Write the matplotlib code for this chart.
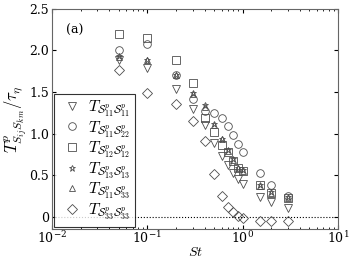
#Scatter of particle time scales T^p against Stokes number, panel (a)
import matplotlib
matplotlib.use('Agg')
import matplotlib.pyplot as plt
import numpy as np

plt.rcParams['mathtext.fontset'] = 'cm'
plt.rcParams['font.family'] = 'serif'
plt.rcParams['font.serif'] = ['DejaVu Serif']

#DATA
st = [0.05, 0.1, 0.2, 0.3, 0.4, 0.5, 0.6, 0.7, 0.8, 0.9, 1.0, 1.5, 2.0, 3.0]
t11_11 = [1.89, 1.79, 1.54, 1.29, 1.10, 0.89, 0.73, 0.62, 0.53, 0.45, 0.39, 0.24, 0.18, 0.10]
t11_22 = [2.01, 2.08, 1.71, 1.41, 1.27, 1.25, 1.19, 1.09, 0.98, 0.88, 0.78, 0.53, 0.38, 0.25]
t12_12 = [2.20, 2.15, 1.88, 1.61, 1.19, 1.02, 0.86, 0.78, 0.67, 0.59, 0.55, 0.38, 0.29, 0.22]
t13_13 = [1.93, 1.89, 1.71, 1.49, 1.34, 1.12, 0.94, 0.80, 0.69, 0.59, 0.56, 0.38, 0.30, 0.24]
t11_33 = [1.92, 1.88, 1.71, 1.48, 1.32, 1.10, 0.93, 0.79, 0.68, 0.58, 0.55, 0.37, 0.29, 0.23]
t33_33 = [1.76, 1.49, 1.35, 1.15, 0.91, 0.51, 0.25, 0.12, 0.05, 0.01, -0.02, -0.05, -0.05, -0.05]

series = [t11_11, t11_22, t12_12, t13_13, t11_33, t33_33]
markers = ['v', 'o', 's', '*', '^', 'D']
labels = [r'$T_{\mathcal{S}^p_{11}\mathcal{S}^p_{11}}$',
          r'$T_{\mathcal{S}^p_{11}\mathcal{S}^p_{22}}$',
          r'$T_{\mathcal{S}^p_{12}\mathcal{S}^p_{12}}$',
          r'$T_{\mathcal{S}^p_{13}\mathcal{S}^p_{13}}$',
          r'$T_{\mathcal{S}^p_{11}\mathcal{S}^p_{33}}$',
          r'$T_{\mathcal{S}^p_{33}\mathcal{S}^p_{33}}$']
sizes = [5.5, 5.5, 5.5, 5.0, 5.0, 5.5]

#PLOT
fig = plt.figure(figsize=(3.53, 2.63), dpi=100)
ax = fig.add_axes([0.147, 0.129, 0.811, 0.837])
ax.axhline(0, color='k', ls=':', lw=0.8, zorder=0)
for y, m, lab, ms in zip(series, markers, labels, sizes):
    ax.plot(st, y, ls='none', marker=m, ms=ms, mfc='none', mec='0.3',
            mew=0.6, label=lab)

ax.set_xscale('log')
ax.set_xlim(1e-2, 1e1)
ax.set_ylim(-0.15, 2.5)
ax.set_yticks([0, 0.5, 1.0, 1.5, 2.0, 2.5])
ax.set_yticklabels(['0', '0.5', '1.0', '1.5', '2.0', '2.5'])
ax.tick_params(which='both', direction='in', top=True, right=True, labelsize=9, pad=2)
ax.tick_params(axis='x', which='both', pad=1)
ax.tick_params(which='major', length=3)
ax.tick_params(which='minor', length=1.5)
for s in ax.spines.values():
    s.set_color('0.4')

ax.set_xlabel(r'$St$', fontsize=10, labelpad=-1)
ax.set_ylabel(r'$T^p_{S_{ij}S_{km}}/\tau_\eta$', fontsize=12, labelpad=0)
ax.text(0.05, 0.93, '(a)', transform=ax.transAxes, fontsize=9, va='top')

leg = ax.legend(loc='lower left', fontsize=11.5, frameon=True, fancybox=False,
                borderaxespad=0.15, handletextpad=0.2, labelspacing=0.0,
                handlelength=1.6, borderpad=0.3)
leg.get_frame().set_edgecolor('k')
leg.get_frame().set_linewidth(0.8)

fig.savefig('out.png', dpi=100)
